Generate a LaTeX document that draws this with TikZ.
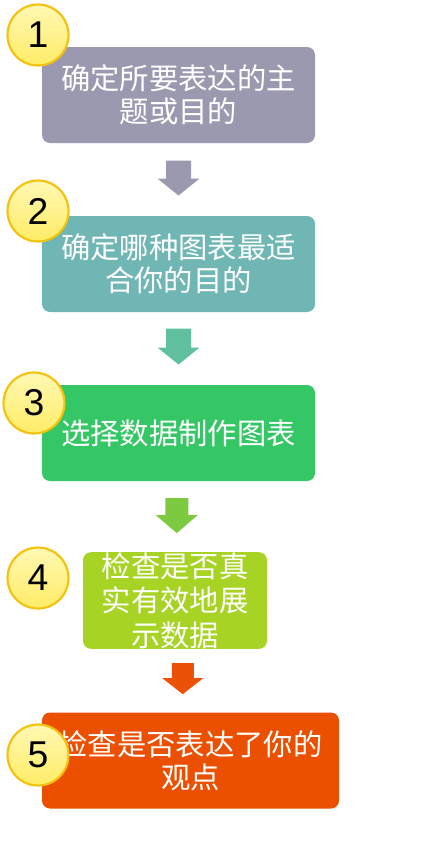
\documentclass[tikz,border=0pt]{standalone}
\usepackage{fontspec}
\usepackage{xcolor}
\usepackage{tikz}
\usetikzlibrary{positioning, calc}
\newfontfamily\cjk{Noto Sans CJK SC}
\newfontfamily\numfont{Liberation Sans}

\definecolor{stepA}{HTML}{9B99AF}
\definecolor{stepB}{HTML}{6FB6B4}
\definecolor{stepC}{HTML}{35C665}
\definecolor{stepD}{HTML}{A7D324}
\definecolor{stepE}{HTML}{EB5000}
\definecolor{arrowA}{HTML}{9B99AF}
\definecolor{arrowB}{HTML}{5FBF9F}
\definecolor{arrowC}{HTML}{7DC940}
\definecolor{arrowD}{HTML}{EB5208}
\definecolor{badgeRim}{HTML}{F4C20D}
\definecolor{badgeTop}{HTML}{FFF8B4}
\definecolor{badgeBot}{HTML}{FFEC66}

\begin{document}
\begin{tikzpicture}[x=0.75pt,y=-0.75pt,
  stepbox/.style={rounded corners=6pt, minimum height=72pt, inner sep=0pt,
    align=center, text=white, font=\cjk\fontsize{22}{24.75}\selectfont},
  badge/.style={circle, minimum size=45.75pt, inner sep=0pt, draw=badgeRim,
    line width=1.6pt, top color=badgeTop, bottom color=badgeBot,
    font=\numfont\fontsize{28}{30}\selectfont}]
  \useasboundingbox (0,0) rectangle (430,846);

  % Step boxes
  \node[stepbox, fill=stepA, minimum width=204.75pt] (B1) at (178.5,95) {确定所要表达的主\\题或目的};
  \node[stepbox, fill=stepB, minimum width=204.75pt] (B2) at (178.5,264) {确定哪种图表最适\\合你的目的};
  \node[stepbox, fill=stepC, minimum width=204.75pt] (B3) at (178.5,433) {选择数据制作图表};
  \node[stepbox, fill=stepD, minimum width=138pt, font=\cjk\fontsize{22}{26}\selectfont] (B4) at (175,600.5) {检查是否真\\实有效地展\\示数据};
  \node[stepbox, fill=stepE, minimum width=222.75pt] (B5) at (190.5,760.5) {检查是否表达了你的\\观点};

  % Block arrows between the boxes
  \coordinate (M1) at ($(B1.south)!0.5!(B2.north)$);
  \coordinate (M2) at ($(B2.south)!0.5!(B3.north)$);
  \coordinate (M3) at ($(B3.south)!0.5!(B4.north)$);
  \coordinate (M4) at ($(B4.south)!0.5!(B5.north)$);
  \fill[arrowA] ($(M1)+(-12.5,-19)$) -- ++(25,0) -- ++(0,18) -- ++(8.5,0) -- ($(M1)+(0,16)$) -- ($(M1)+(-21,-1)$) -- ++(8.5,0) -- cycle;
  \fill[arrowB] ($(M2)+(-12.5,-20)$) -- ++(25,0) -- ++(0,19) -- ++(8.5,0) -- ($(M2)+(0,16)$) -- ($(M2)+(-21,-1)$) -- ++(8.5,0) -- cycle;
  \fill[arrowC] ($(M3)+(-11.5,-18.5)$) -- ++(23,0) -- ++(0,17) -- ++(9.5,0) -- ($(M3)+(0,16.5)$) -- ($(M3)+(-21,-1.5)$) -- ++(9.5,0) -- cycle;
  \fill[arrowD] ($(M4)+(-11,-17.5)$) -- ++(22,0) -- ++(0,15) -- ++(9.5,0) -- ($(M4)+(0,13.5)$) -- ($(M4)+(-20.5,-2.5)$) -- ++(9.5,0) -- cycle;

  % Number badges
  \node[badge] (N1) at (38,35) {1};
  \node[badge] (N2) at (38,211) {2};
  \node[badge] (N3) at (34,403) {3};
  \node[badge] (N4) at (38,578) {4};
  \node[badge] (N5) at (38,755) {5};
\end{tikzpicture}
\end{document}
